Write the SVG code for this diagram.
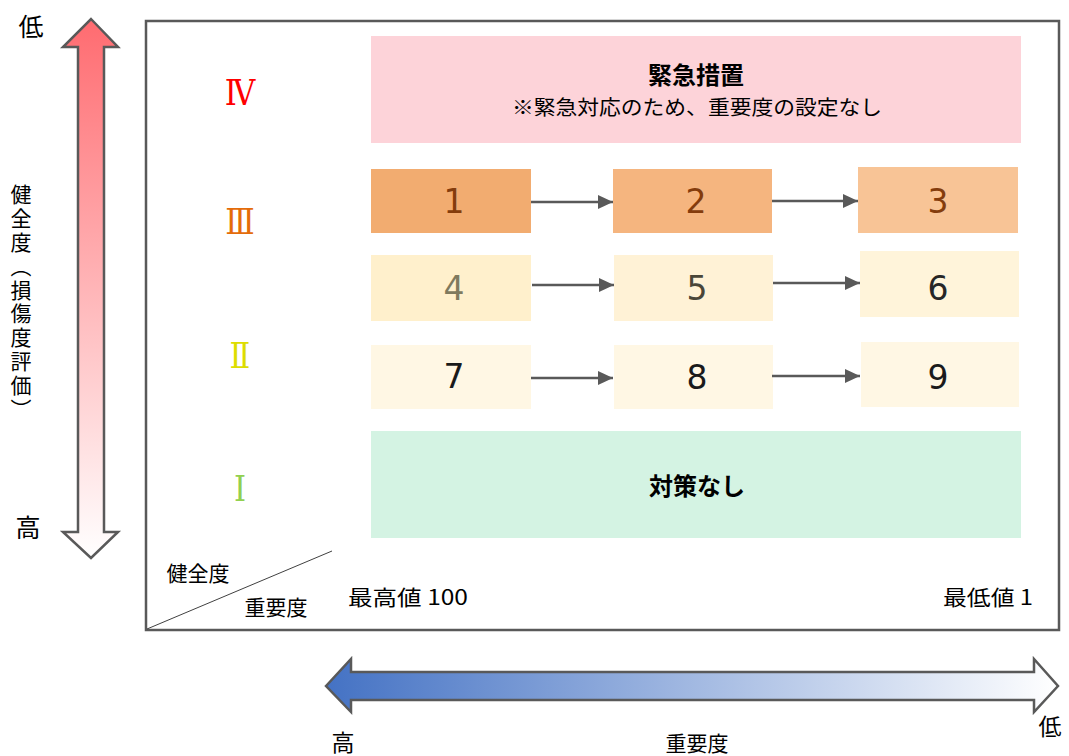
<svg xmlns="http://www.w3.org/2000/svg" width="1069" height="756" viewBox="0 0 1069 756">
<style>
.jp{font-family:"Noto Sans CJK JP","Noto Sans CJK SC",sans-serif;fill:#000}
.num{font-family:"DejaVu Sans","Noto Sans",sans-serif;font-size:33px;text-anchor:middle}
.rom{font-family:"DejaVu Serif","Noto Sans CJK JP",serif;font-size:36px;text-anchor:middle}
.frame{fill:none;stroke:#595959;stroke-width:2.5}
.conn{stroke:#595959;stroke-width:2.5;fill:none;marker-end:url(#ah)}
.bigarrow{stroke:#595959;stroke-width:2.5}
</style>
<defs>
<marker id="ah" markerUnits="userSpaceOnUse" markerWidth="16" markerHeight="14" refX="15" refY="7" orient="auto">
<path d="M0,0 L15,7 L0,14 Z" fill="#595959"/>
</marker>
<linearGradient id="gv" x1="0" y1="0" x2="0" y2="1">
<stop offset="0" stop-color="#FF6B70"/>
<stop offset="1" stop-color="#FFFFFF"/>
</linearGradient>
<linearGradient id="gh" x1="0" y1="0" x2="1" y2="0">
<stop offset="0" stop-color="#4472C4"/>
<stop offset="1" stop-color="#FFFFFF"/>
</linearGradient>
</defs>
<rect width="1069" height="756" fill="#FFFFFF"/>

<g id="frame">
<rect class="frame" x="146" y="21" width="913" height="609"/>
<line x1="147" y1="629" x2="332" y2="551" stroke="#404040" stroke-width="1"/>
<text class="jp" x="198" y="581" font-size="21" text-anchor="middle">健全度</text>
<text class="jp" x="276" y="615" font-size="21" text-anchor="middle">重要度</text>
<text class="jp" x="348" y="605" font-size="21" textLength="120" lengthAdjust="spacingAndGlyphs">最高値 100</text>
<text class="jp" x="943" y="605" font-size="21" textLength="90" lengthAdjust="spacingAndGlyphs">最低値 1</text>
</g>

<g id="axis-health">
<path class="bigarrow" fill="url(#gv)" d="M91,19 L118,47 L104,47 L104,532 L118,532 L91,558 L63,532 L78,532 L78,47 L63,47 Z"/>
<text class="jp" x="31" y="36" font-size="25" text-anchor="middle">低</text>
<text class="jp" x="28" y="537" font-size="25" text-anchor="middle">高</text>
<text class="jp" x="21" y="184" font-size="21" letter-spacing="2.8" writing-mode="vertical-rl" style="writing-mode:vertical-rl">健全度（損傷度評価）</text>
</g>

<g id="axis-importance">
<path class="bigarrow" fill="url(#gh)" d="M326,686 L351,659 L351,672 L1034,672 L1034,659 L1058,686 L1034,712 L1034,700 L351,700 L351,712 Z"/>
<text class="jp" x="343" y="751" font-size="23" text-anchor="middle">高</text>
<text class="jp" x="697" y="751" font-size="21" text-anchor="middle">重要度</text>
<text class="jp" x="1050" y="735" font-size="23" text-anchor="middle">低</text>
</g>

<g id="levels">
<text class="rom" transform="translate(240,105) scale(0.85,1)" fill="#FF0000">Ⅳ</text>
<text class="rom" transform="translate(240,234) scale(0.85,1)" fill="#E46C0A">Ⅲ</text>
<text class="rom" transform="translate(240,368) scale(0.85,1)" fill="#DDDD00">Ⅱ</text>
<text class="rom" transform="translate(240,501) scale(0.85,1)" fill="#92D050">Ⅰ</text>
</g>

<g id="node-emergency">
<rect x="371" y="36" width="650" height="107" fill="#FDD3D9"/>
<text class="jp" x="696" y="84" font-size="24" font-weight="bold" text-anchor="middle">緊急措置</text>
<text class="jp" x="697" y="115" font-size="20" text-anchor="middle" textLength="370" lengthAdjust="spacingAndGlyphs">※緊急対応のため、重要度の設定なし</text>
</g>

<g id="node-1"><rect x="371" y="169" width="160" height="64" fill="#F2AC70"/><text class="num" x="454" y="213" fill="#843C0C">1</text></g>
<g id="node-2"><rect x="613" y="169" width="159" height="64" fill="#F5B57F"/><text class="num" x="696" y="213" fill="#843C0C">2</text></g>
<g id="node-3"><rect x="858" y="167" width="160" height="66" fill="#F8C496"/><text class="num" x="938" y="213" fill="#843C0C">3</text></g>
<g id="node-4"><rect x="371" y="255" width="160" height="66" fill="#FFF0CC"/><text class="num" x="454" y="300" fill="#7F7A5E">4</text></g>
<g id="node-5"><rect x="614" y="255" width="159" height="66" fill="#FFF2D6"/><text class="num" x="697" y="300" fill="#4A4638">5</text></g>
<g id="node-6"><rect x="860" y="251" width="159" height="66" fill="#FFF4DA"/><text class="num" x="938" y="300" fill="#262626">6</text></g>
<g id="node-7"><rect x="371" y="345" width="160" height="64" fill="#FFF7E4"/><text class="num" x="454" y="388" fill="#1A1A1A">7</text></g>
<g id="node-8"><rect x="614" y="345" width="159" height="64" fill="#FFF7E4"/><text class="num" x="697" y="389" fill="#1A1A1A">8</text></g>
<g id="node-9"><rect x="861" y="342" width="158" height="65" fill="#FFF7E4"/><text class="num" x="938" y="389" fill="#1A1A1A">9</text></g>

<g id="node-none">
<rect x="371" y="431" width="650" height="107" fill="#D4F3E3"/>
<text class="jp" x="697" y="495" font-size="24" font-weight="bold" text-anchor="middle">対策なし</text>
</g>

<g id="connectors">
<line class="conn" x1="531" y1="202" x2="613" y2="202"/>
<line class="conn" x1="772" y1="201" x2="858" y2="201"/>
<line class="conn" x1="532" y1="285" x2="614" y2="285"/>
<line class="conn" x1="773" y1="283" x2="860" y2="283"/>
<line class="conn" x1="531" y1="378" x2="613" y2="378"/>
<line class="conn" x1="772" y1="376" x2="860" y2="376"/>
</g>
</svg>
